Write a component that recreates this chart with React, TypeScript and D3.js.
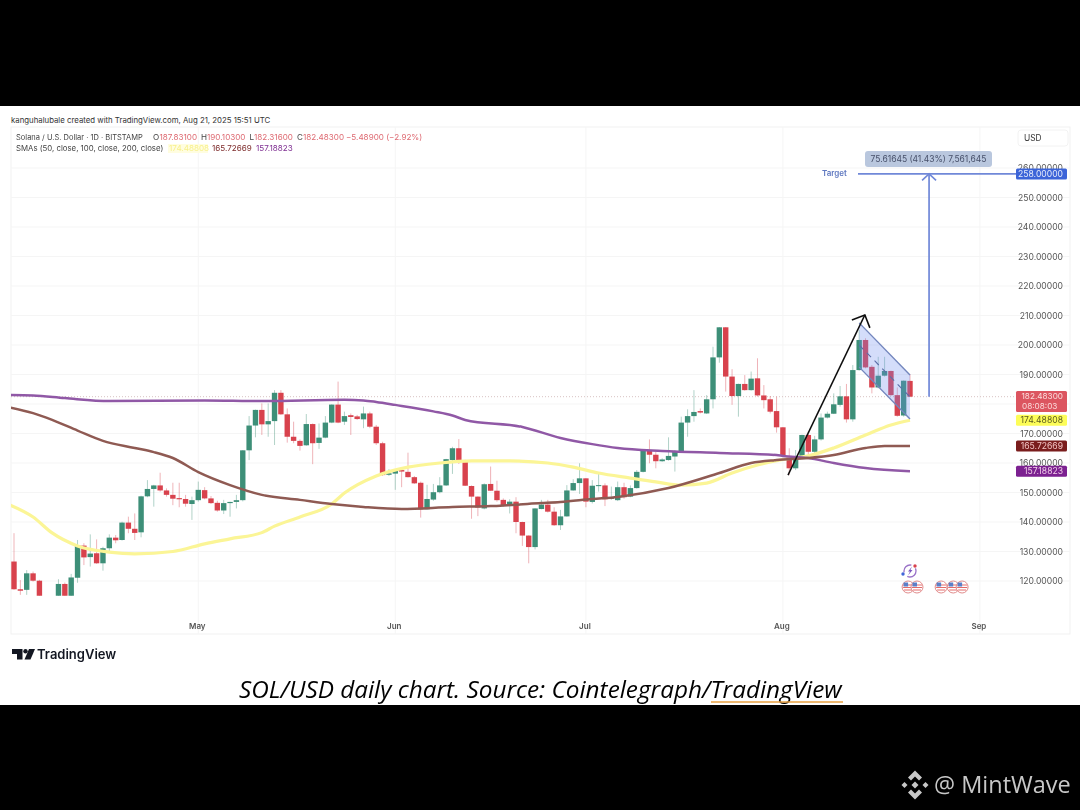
import * as d3 from "d3";

// Daily candles, Apr 2 to Aug 21 2025 (day 0 = Apr 2)
const opens = [
  126.6, 117.2, 117.0, 122.6, 120.1, 108, 106, 108, 119, 112.5,
  121.1, 132.0, 128.1, 129.4, 126.0, 131.1, 134.7, 133.9, 139.8, 137.7,
  136.5, 148.7, 151.2, 152.4, 150.7, 149.2, 148.1, 147.8, 146.1, 147.4,
  150.8, 148.0, 146.5, 143.9, 146.4, 146.8, 147.4, 164.3, 172.7, 178.0,
  173.1, 174.2, 183.8, 176.5, 168.9, 167.5, 166.0, 173.2, 166.8, 168.6,
  173.7, 179.8, 174.0, 176.2, 175.8, 174.8, 176.8, 172.3, 166.7, 156.0,
  156.4, 157.6, 157.0, 155.2, 153.3, 144.3, 147.6, 150.1, 152.4, 161.0,
  165.0, 161.0, 152.2, 148.6, 144.6, 152.9, 150.6, 147.5, 145.7, 146.9,
  140.0, 135.4, 131.5, 144.4, 145.9, 143.5, 138.9, 141.9, 150.7, 153.2,
  154.8, 146.8, 152.3, 152.4, 147.9, 147.4, 151.8, 148.6, 151.5, 157.0,
  164.4, 162.8, 160.6, 161.0, 162.2, 163.9, 173.7, 175.9, 177.6, 176.8,
  181.6, 195.8, 206.0, 189.3, 182.7, 186.8, 184.7, 188.7, 182.9, 181.6,
  177.6, 172.1, 162.4, 158.2, 162.1, 169.5, 163.8, 168.0, 175.4, 176.7,
  179.7, 182.6, 174.8, 191.5, 201.7, 192.6, 185.6, 189.6, 191.2, 183.0,
  176.1, 187.83,
];
const highs = [
  136.2, 120.3, 123.7, 123.2, 120.4, 113, 112, 120.6, 119.5, 122.4,
  133.9, 132.8, 135.8, 134.1, 131.6, 135.8, 135.6, 140.1, 141.8, 142.9,
  148.9, 154.2, 152.6, 156.7, 151.4, 153.3, 153.3, 149.2, 148.6, 153.7,
  151.8, 148.8, 147.2, 147.5, 146.9, 149.2, 164.4, 175.9, 178.1, 180.2,
  180.2, 184.7, 184.7, 178.5, 174.0, 168.0, 176.6, 173.4, 173.4, 175.9,
  179.9, 187.6, 177.4, 176.8, 176.3, 179.1, 177.4, 172.9, 167.2, 157.9,
  157.9, 158.2, 163.5, 155.6, 153.7, 152.6, 152.9, 155.2, 161.4, 165.5,
  168.1, 161.1, 152.4, 148.7, 153.1, 158.8, 154.0, 148.0, 147.7, 148.4,
  140.1, 135.5, 144.7, 147.5, 147.5, 145.0, 144.1, 152.5, 154.5, 159.9,
  154.9, 154.2, 156.5, 153.1, 152.0, 153.7, 153.3, 152.4, 157.6, 164.7,
  168.0, 163.8, 161.6, 168.7, 164.4, 175.7, 178.2, 184.7, 178.5, 183.0,
  199.4, 206.1, 206.1, 191.8, 186.9, 189.8, 191.0, 195.5, 186.4, 182.7,
  182.5, 172.2, 165.0, 164.4, 169.6, 170.6, 169.2, 176.8, 177.4, 183.6,
  186.1, 186.8, 193.2, 205.1, 202.3, 193.2, 196.0, 196.0, 191.3, 185.6,
  188.0, 190.1,
];
const lows = [
  117.0, 115.3, 115.3, 119.8, 106, 96, 104, 105, 111, 111,
  119.4, 125.4, 124.9, 125.8, 123.5, 129.6, 132.8, 133.7, 136.2, 133.9,
  134.8, 148.4, 145.2, 150.3, 148.6, 145.7, 145.0, 145.2, 140.7, 146.9,
  147.7, 146.1, 143.5, 142.7, 141.8, 144.6, 147.0, 161.0, 168.7, 169.5,
  168.9, 166.1, 176.3, 166.9, 166.7, 164.2, 165.8, 159.6, 164.8, 168.4,
  173.5, 173.5, 172.9, 169.5, 174.6, 171.8, 171.8, 166.1, 155.6, 155.6,
  150.9, 151.8, 155.1, 152.9, 141.5, 144.2, 147.2, 149.7, 152.2, 156.3,
  159.7, 152.2, 141.1, 142.0, 144.3, 150.5, 146.9, 145.2, 142.9, 136.2,
  131.9, 126.0, 130.7, 144.3, 143.2, 138.7, 137.3, 141.8, 150.6, 149.5,
  145.0, 146.3, 150.3, 145.4, 147.5, 147.1, 147.9, 148.4, 151.3, 156.8,
  159.9, 158.2, 160.4, 160.8, 157.1, 163.7, 168.9, 174.0, 176.8, 176.6,
  178.5, 194.0, 184.2, 179.7, 175.7, 184.5, 184.5, 182.5, 178.5, 176.8,
  170.3, 162.1, 155.9, 157.6, 161.6, 162.1, 163.3, 167.6, 175.1, 176.6,
  179.1, 173.7, 174.0, 191.3, 192.1, 183.6, 185.3, 189.3, 182.7, 175.7,
  175.7, 182.32,
];
const closes = [
  117.2, 116.7, 122.6, 120.1, 108, 106, 106, 119, 112.5, 121.2,
  132.2, 128.0, 129.3, 126.0, 131.1, 134.7, 133.8, 139.8, 137.7, 136.3,
  148.7, 151.2, 152.4, 150.7, 149.2, 147.9, 147.7, 146.2, 147.4, 150.9,
  148.0, 146.4, 143.9, 146.4, 146.8, 147.4, 164.3, 172.7, 178.0, 173.1,
  174.2, 183.8, 176.5, 168.9, 167.5, 165.8, 173.2, 166.7, 168.6, 173.7,
  179.8, 173.7, 175.9, 175.6, 174.9, 176.8, 172.3, 166.7, 155.9, 156.5,
  157.6, 157.1, 155.2, 153.1, 144.3, 147.8, 150.1, 152.4, 161.3, 165.0,
  161.0, 152.3, 148.6, 144.9, 152.8, 150.6, 147.4, 145.7, 146.9, 140.0,
  135.4, 131.5, 144.6, 145.9, 143.5, 138.9, 141.9, 150.7, 153.2, 154.8,
  146.9, 152.3, 152.5, 147.7, 148.2, 151.8, 148.4, 151.5, 157.0, 164.6,
  162.8, 160.6, 161.2, 162.4, 164.1, 173.7, 175.9, 177.3, 177.1, 181.6,
  195.8, 206.0, 189.3, 182.7, 186.8, 184.7, 188.6, 182.9, 181.3, 177.4,
  172.1, 162.6, 158.2, 162.1, 169.5, 163.8, 168.0, 175.4, 176.7, 179.9,
  182.6, 174.8, 191.5, 201.7, 192.4, 185.6, 189.6, 191.2, 183.0, 176.0,
  187.9, 182.48,
];

const sma50Days = [-1, 3, 6, 10, 15, 19, 25, 30, 34, 39, 41, 45, 50, 52, 57, 62, 67, 72, 78, 84, 88, 92, 97, 101, 105, 109, 113, 117, 121, 125, 129, 134, 138, 141];
const sma50 = [146.1, 141.7, 136.3, 131.9, 129.8, 129.2, 130.0, 132.6, 134.3, 136.4, 138.6, 141.7, 146.1, 149.8, 155.6, 158.6, 160.0, 160.7, 160.7, 160.0, 158.6, 156.6, 154.9, 153.6, 152.5, 153.2, 156.6, 159.3, 161.2, 162.4, 165.1, 169.5, 172.9, 174.49];
const sma100Days = [-1, 3, 6, 10, 14, 19, 22, 25, 29, 34, 39, 45, 50, 55, 61, 69, 75, 83, 86, 91, 95, 103, 111, 116, 120, 125, 129, 134, 137, 141];
const sma100 = [179.0, 176.9, 174.6, 171.0, 167.5, 165.1, 163.7, 161.7, 156.9, 152.5, 149.2, 147.5, 146.1, 145.1, 144.4, 145.1, 145.4, 146.4, 146.8, 147.8, 148.5, 151.5, 156.6, 160.0, 161.0, 161.7, 162.7, 165.1, 165.8, 165.73];
const sma200Days = [-1, 3, 8, 15, 30, 39, 52, 55, 57, 60, 66, 69, 71, 80, 86, 91, 95, 102, 111, 120, 121, 125, 129, 134, 141];
const sma200 = [183.05, 182.9, 182.0, 181.0, 181.2, 181.0, 181.4, 181.2, 180.7, 179.7, 177.5, 176.1, 174.6, 172.2, 168.5, 166.4, 165.1, 164.1, 163.4, 162.7, 162.4, 161.7, 160.0, 158.3, 157.19];

const priceTicks = [120, 130, 140, 150, 160, 170, 180, 190, 200, 210, 220, 230, 240, 250, 260];
const monthDays = [29, 60, 90, 121, 152];
const monthLabels = ["May", "Jun", "Jul", "Aug", "Sep"];

// Drawing tools on the chart, in day / price
const riseArrow = [[121.8, 155.9], [133.9, 210.2]];
const flagArea = [[133, 207.5], [141, 189.8], [141, 174.9], [133, 192.5]];
const flagMid = [[133, 200], [141, 182.4]];
const targetDay = 144;
const targetPrice = 258;
const targetFromPrice = 182.48;
const eventDays = [140.7, 142.1, 145.9, 147.8, 149.2];

const UI_FONT = "Inter, 'Liberation Sans', sans-serif";
const RED = "#d8434e";
const GREEN = "#3d8f78";
const YELLOW = "#fbf596";
const BROWN = "#8f5a52";
const PURPLE = "#9059a6";
const TOOL_BLUE = "#7088d8";

const PANE = { left: 11, right: 1070, top: 127, bottom: 634 };

const x = d3.scaleLinear().domain([0, 141]).range([14, 910]);
const y = d3.scaleLinear().domain([120, 260]).range([581, 168]);

const smaLine = (days: number[], vals: number[]) =>
  d3
    .line<number>()
    .x((d) => x(d))
    .y((_, i) => y(vals[i]))
    .curve(d3.curveMonotoneX)(days) as string;

const toolPath = (pts: number[][]) =>
  d3
    .line<number[]>()
    .x((d) => x(d[0]))
    .y((d) => y(d[1]))(pts) as string;

function PriceBadge(props: { price: number; fill: string; color: string; label: string; h?: number }) {
  const h = props.h ?? 11;
  const py = y(props.price);
  return (
    <g>
      <rect x={1016} y={py - 5.5} width={51} height={h} rx={1.5} fill={props.fill} />
      <text x={1063} y={py + 3} textAnchor="end" fontSize={8.6} fill={props.color}>
        {props.label}
      </text>
    </g>
  );
}

export default function App() {
  const upper = (i: number) => Math.max(opens[i], closes[i]);
  const lower = (i: number) => Math.min(opens[i], closes[i]);
  const arrowEnd = riseArrow[1];
  const ax = x(arrowEnd[0]);
  const ay = y(arrowEnd[1]);
  const tx = x(targetDay);
  const ty = y(targetPrice);

  return (
    <svg
      width={1080}
      height={810}
      style={{ position: "absolute", left: 0, top: 0, display: "block" }}
      fontFamily={UI_FONT}
    >
      <defs>
        <clipPath id="candleClip">
          <rect x={PANE.left} y={PANE.top} width={1005} height={y(115) - PANE.top} />
        </clipPath>
        <clipPath id="paneClip">
          <rect x={PANE.left} y={PANE.top} width={1005} height={PANE.bottom - PANE.top} />
        </clipPath>
        <filter id="soft" x="-2%" y="-2%" width="104%" height="104%">
          <feGaussianBlur stdDeviation="0.35" />
        </filter>
      </defs>

      <rect width={1080} height={810} fill="#000" />
      <rect x={0} y={106} width={1080} height={599} fill="#fff" />

      <text x={11} y={122.5} fontSize={7.8} fill="#333">
        kanguhalubale created with TradingView.com, Aug 21, 2025 15:51 UTC
      </text>

      {/* pane frame and grid */}
      <rect x={PANE.left} y={PANE.top} width={PANE.right - PANE.left} height={PANE.bottom - PANE.top} fill="none" stroke="#f1f1f1" />
      {priceTicks.map((t) => (
        <line key={t} x1={PANE.left} x2={PANE.right} y1={y(t)} y2={y(t)} stroke="#f5f5f5" />
      ))}
      {monthDays.map((d) => (
        <line key={d} x1={x(d)} x2={x(d)} y1={PANE.top} y2={PANE.bottom} stroke="#f5f5f5" />
      ))}

      {/* last price line */}
      <line x1={PANE.left} x2={1016} y1={y(closes[141])} y2={y(closes[141])} stroke="#c9a9a9" strokeWidth={0.7} strokeDasharray="1 2" />

      <g filter="url(#soft)">
        {/* candles */}
        <g clipPath="url(#candleClip)">
          {opens.map((_, i) => {
            const col = closes[i] >= opens[i] ? GREEN : RED;
            return (
              <g key={i}>
                <line x1={x(i)} x2={x(i)} y1={y(highs[i])} y2={y(lows[i])} stroke={col} strokeOpacity={0.45} strokeWidth={0.9} />
                <rect
                  x={x(i) - 2.7}
                  y={y(upper(i))}
                  width={5.4}
                  height={Math.max(1, y(lower(i)) - y(upper(i)))}
                  fill={col}
                />
              </g>
            );
          })}
        </g>

        {/* moving averages */}
        <g clipPath="url(#paneClip)" fill="none" strokeLinejoin="round">
          <path d={smaLine(sma50Days, sma50)} stroke={YELLOW} strokeWidth={3.2} />
          <path d={smaLine(sma200Days, sma200)} stroke={PURPLE} strokeWidth={2.5} />
          <path d={smaLine(sma100Days, sma100)} stroke={BROWN} strokeWidth={2.5} />
        </g>

        {/* flag channel */}
        <path d={toolPath(flagArea) + "Z"} fill="#6f8df0" fillOpacity={0.3} />
        <path d={toolPath(flagArea.slice(0, 2))} fill="none" stroke="#7386bd" strokeWidth={1.4} />
        <path d={toolPath(flagArea.slice(2))} fill="none" stroke="#7386bd" strokeWidth={1.4} />
        <path d={toolPath(flagMid)} fill="none" stroke="#5a6ea8" strokeWidth={1.1} strokeDasharray="6 5" />

        {/* impulse arrow */}
        <path d={toolPath(riseArrow)} fill="none" stroke="#111" strokeWidth={1.5} />
        <path
          d={`M${ax - 13},${ay + 5} L${ax},${ay} L${ax + 5},${ay + 13}`}
          fill="none"
          stroke="#111"
          strokeWidth={1.6}
        />

        {/* target projection */}
        <line x1={858} x2={1016} y1={ty} y2={ty} stroke={TOOL_BLUE} strokeWidth={1.8} />
        <line x1={tx} x2={tx} y1={ty} y2={y(targetFromPrice)} stroke={TOOL_BLUE} strokeWidth={1.7} />
        <path d={`M${tx - 7},${ty + 6.5} L${tx},${ty} L${tx + 7},${ty + 6.5}`} fill="none" stroke={TOOL_BLUE} strokeWidth={1.6} />
      </g>

      <text x={822} y={175.5} fontSize={8} fontWeight={600} fill="#5f78c0">
        Target
      </text>
      <rect x={865} y={151} width={127} height={16} rx={3} fill="#b9c7de" />
      <text x={928.5} y={162} textAnchor="middle" fontSize={8.5} fill="#47506a">
        75.61645 (41.43%) 7,561,645
      </text>

      {/* legend */}
      <g fontSize={8.1} fill="#444">
        <text x={16} y={140} fontSize={7.5}>Solana / U.S. Dollar · 1D · BITSTAMP</text>
        <text x={153} y={140}>O</text>
        <text x={159.5} y={140} fill="#de6a72">187.83100</text>
        <text x={201} y={140}>H</text>
        <text x={207} y={140} fill="#de6a72">190.10300</text>
        <text x={249.5} y={140}>L</text>
        <text x={254} y={140} fill="#de6a72">182.31600</text>
        <text x={297} y={140}>C</text>
        <text x={303} y={140} fill="#de6a72">182.48300</text>
        <text x={346} y={140} fill="#de6a72">−5.48900 (−2.92%)</text>
        <text x={16} y={151} fontSize={7.8}>SMAs (50, close, 100, close, 200, close)</text>
        <rect x={168} y={144} width={40} height={9} fill="#fffde0" />
        <text x={169} y={151} fill="#f8f08a">174.48808</text>
        <text x={212} y={151} fill="#7d2a2a">165.72669</text>
        <text x={256} y={151} fill="#7f2f92">157.18823</text>
      </g>

      {/* price axis, 180 sits under the last price badge */}
      <g fontSize={8.6} fill="#555">
        {priceTicks
          .filter((t) => t !== 180)
          .map((t) => (
            <text key={t} x={1063} y={y(t) + 3} textAnchor="end">
              {t.toFixed(5)}
            </text>
          ))}
      </g>
      <rect x={1018} y={130} width={50} height={16} rx={3} fill="#fff" stroke="#f2f2f2" />
      <text x={1024} y={141} fontSize={8.4} fill="#333">USD</text>

      <PriceBadge price={targetPrice} fill="#3c64d8" color="#e8edfb" label="258.00000" />
      <rect x={1016} y={391} width={51} height={21} rx={1.5} fill="#dc5560" />
      <text x={1063} y={399} textAnchor="end" fontSize={8.2} fill="#fbdcdc">182.48300</text>
      <text x={1022} y={409} fontSize={8.2} fill="#fbdcdc">08:08:03</text>
      <PriceBadge price={174.49} fill="#fdfd58" color="#5a5a20" label="174.48808" />
      <PriceBadge price={165.73} fill="#7a1d1d" color="#f3c4c4" label="165.72669" />
      <PriceBadge price={157.19} fill="#7c2191" color="#f1cfe8" label="157.18823" />

      {/* time axis */}
      <g fontSize={8} fontWeight={600} fill="#555" textAnchor="middle">
        {monthDays.map((d, i) => (
          <text key={d} x={x(d) - 1} y={628.5}>
            {monthLabels[i]}
          </text>
        ))}
      </g>

      {/* economic event and news markers */}
      <g filter="url(#soft)">
        <circle cx={x(141)} cy={571} r={6} fill="#fff" stroke="#9a72c8" strokeWidth={1.3} strokeDasharray="12 5" />
        <path d={`M${x(141) + 2},566.5 L${x(141) - 2},571.5 L${x(141)},571.5 L${x(141) - 2},575.5 L${x(141) + 2.5},570 L${x(141) + 0.5},570 Z`} fill="#7b57c0" />
        <circle cx={x(141) - 7} cy={574} r={1.7} fill="#3f66d8" />
        <circle cx={x(141) + 5} cy={566} r={1.7} fill="#d8434e" />
        {eventDays.map((d) => (
          <g key={d}>
            <circle cx={x(d)} cy={587} r={6} fill="#fff" stroke="#e08a8a" strokeWidth={1} />
            <path d={`M${x(d) - 5},585 h10 M${x(d) - 5},587.5 h10 M${x(d) - 4},590 h8`} stroke="#e46a6a" strokeWidth={1} />
            <rect x={x(d) - 4.5} y={582.5} width={4.5} height={4} fill="#5b7fc8" />
          </g>
        ))}
      </g>

      {/* TradingView logo */}
      <path d="M12,649 H22.5 V659.5 H17 V654 H12 Z" fill="#131722" />
      <circle cx={25.5} cy={651.2} r={2.2} fill="#131722" />
      <path d="M29,649 H35 L30.5,659.5 H24.5 Z" fill="#131722" />
      <text x={37} y={659} fontSize={13} fontWeight={600} fill="#131722">TradingView</text>

      {/* caption */}
      <text x={239} y={698} fontFamily="'Open Sans', sans-serif" fontStyle="italic" fontSize={24.3} fill="#000">
        SOL/USD daily chart. Source: Cointelegraph/TradingView
      </text>
      <line x1={711} x2={843} y1={702} y2={702} stroke="#e8a040" strokeWidth={1.3} />

      {/* site watermark */}
      <g fill="#c8c8c8">
        <path d="M915,770.5 L922,777.5 L919,780.5 L915,776.5 L911,780.5 L908,777.5 Z" />
        <path d="M915,799.5 L922,792.5 L919,789.5 L915,793.5 L911,789.5 L908,792.5 Z" />
        <path d="M915,781.5 L918.5,785 L915,788.5 L911.5,785 Z" />
        <path d="M904.5,782 L907.5,785 L904.5,788 L901.5,785 Z" />
        <path d="M925.5,782 L928.5,785 L925.5,788 L922.5,785 Z" />
      </g>
      <text x={934} y={793} fontFamily="'Open Sans', sans-serif" fontSize={23.5} fill="#c8c8c8">
        @ MintWave
      </text>
    </svg>
  );
}
